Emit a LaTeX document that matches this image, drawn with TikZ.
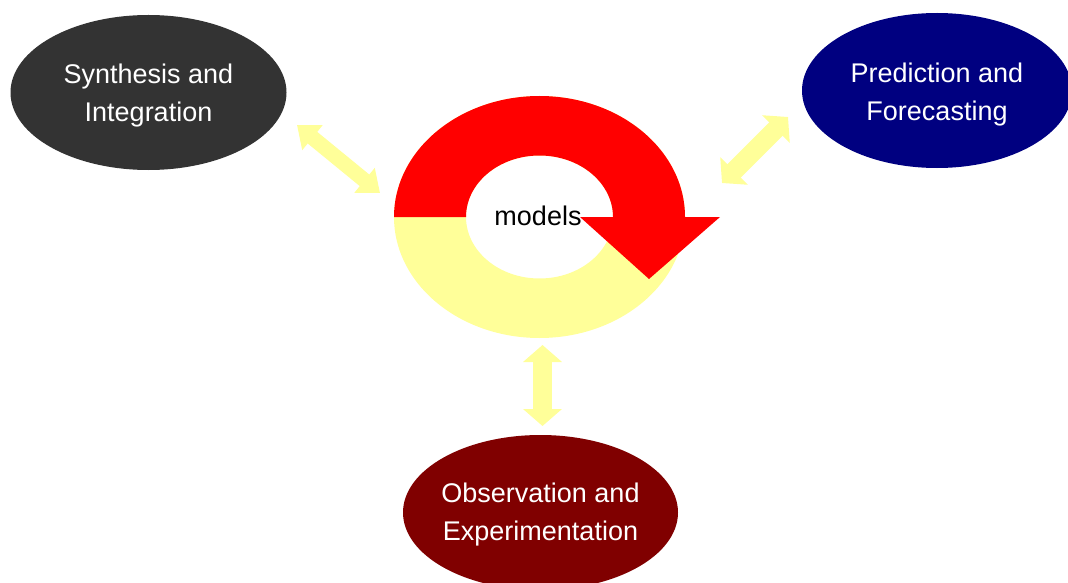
\documentclass[tikz,border=0pt]{standalone}
\usepackage{fontspec}
\setmainfont{Liberation Sans}
\usetikzlibrary{arrows.meta,shapes.geometric}
\definecolor{synth}{HTML}{333333}
\definecolor{pred}{HTML}{000080}
\definecolor{obs}{HTML}{800000}
\definecolor{ringred}{HTML}{FF0000}
\definecolor{ringyel}{HTML}{FFFF99}
\begin{document}
\begin{tikzpicture}[x=1pt,y=-1pt,
  bubble/.style={ellipse, inner sep=0pt, minimum width=276pt, minimum height=155pt},
  bubbletext/.style={text=white, align=center, inner sep=0pt, font=\fontsize{27}{38}\selectfont},
  link/.style={draw=ringyel, line width=19pt, {Triangle[length=17pt,width=38pt]}-{Triangle[length=17pt,width=38pt]}},
  thinlink/.style={draw=ringyel, line width=15pt, {Triangle[length=20pt,width=31pt]}-{Triangle[length=20pt,width=31pt]}},
  modeltext/.style={font=\fontsize{27}{38}\selectfont, text=black, inner sep=0pt}
]
\useasboundingbox (0,0) rectangle (1068,583);
\clip (0,0) rectangle (1068,583);
\fill[white] (0,0) rectangle (1068,583);
% outer bubbles
\node[bubble, fill=synth, label={[bubbletext, yshift=-3pt]center:Synthesis and\\Integration}] (syn) at (148.5,92.5) {};
\node[bubble, fill=pred, minimum width=270pt, label={[bubbletext, yshift=-4pt]center:Prediction and\\Forecasting}] (pred) at (937,90.5) {};
\node[bubble, fill=obs, minimum width=275pt, label={[bubbletext, yshift=-2.5pt]center:Observation and\\Experimentation}] (obs) at (540.5,512.5) {};
% central cycle ring
\coordinate (rc) at (539.5,217);
\fill[ringyel, even odd rule] (rc) ellipse [x radius=145.5pt, y radius=121pt] (rc) ellipse [x radius=73.5pt, y radius=61.5pt];
\fill[ringred] ([xshift=-145.5pt]rc) arc[start angle=180, end angle=0, x radius=145.5pt, y radius=121pt] -- ([xshift=73.5pt]rc) arc[start angle=0, end angle=180, x radius=73.5pt, y radius=61.5pt] -- cycle;
\coordinate (h1) at (580,217);
\coordinate (h2) at (720,217);
\coordinate (h3) at (649,279);
\fill[ringred] (h1) -- (h2) -- (h3) -- cycle;
\node[modeltext] (models) at (538,216) {models};
% double arrows
\coordinate (a1) at (297,125);
\coordinate (a2) at (380,193);
\coordinate (b1) at (722,183);
\coordinate (b2) at (788,117);
\coordinate (c1) at (542.5,345);
\coordinate (c2) at (542.5,426);
\draw[thinlink] (a1) -- (a2);
\draw[link] (b1) -- (b2);
\draw[link] (c1) -- (c2);
\end{tikzpicture}
\end{document}
